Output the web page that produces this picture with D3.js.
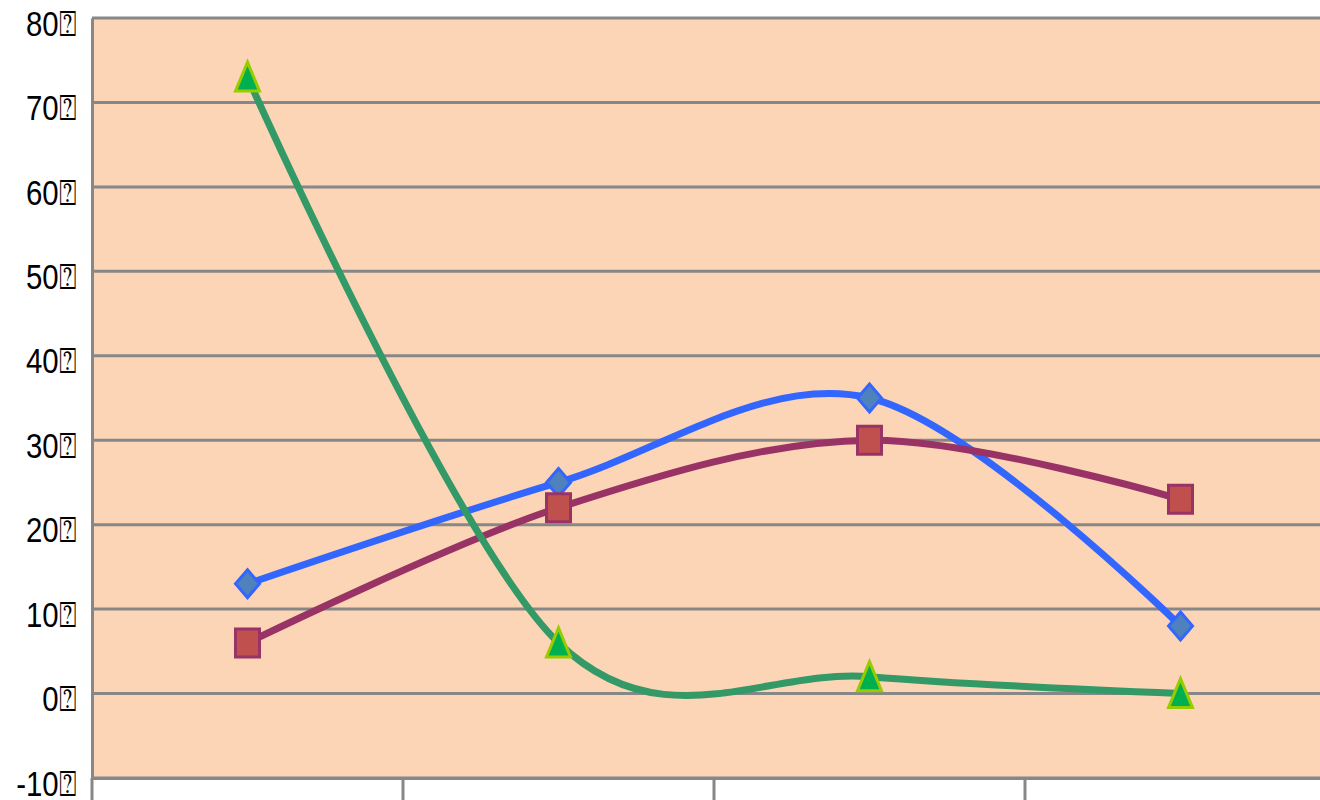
<!DOCTYPE html>
<html>
<head>
<meta charset="utf-8">
<script src="https://cdn.jsdelivr.net/npm/d3@7"></script>
<style>
  html, body { margin: 0; padding: 0; background: #ffffff; }
  svg { display: block; }
</style>
</head>
<body>
<svg id="chart" width="1320" height="800"></svg>
<script>
// Chart data
const categories = ["A", "B", "C", "D"];
const seriesBlue = [13, 25, 35, 8];
const seriesRed = [6, 22, 30, 23];
const seriesGreen = [73, 6, 2, 0];
const yTicks = [-10, 0, 10, 20, 30, 40, 50, 60, 70, 80];
const tickSuffix = "\u2370";

const svg = d3.select("#chart");
const plot = { left: 92, top: 18, right: 1336, bottom: 778 };

const x = d3.scaleBand()
  .domain(categories)
  .range([plot.left, plot.right])
  .paddingInner(0).paddingOuter(0);

const y = d3.scaleLinear()
  .domain([-10, 80])
  .range([plot.bottom, plot.top]);

// plot area background
svg.append("rect")
  .attr("x", plot.left).attr("y", plot.top)
  .attr("width", plot.right - plot.left).attr("height", plot.bottom - plot.top)
  .attr("fill", "#fbd5b5");

// horizontal gridlines
svg.append("g")
  .selectAll("line")
  .data(yTicks)
  .join("line")
  .attr("x1", plot.left).attr("x2", plot.right)
  .attr("y1", d => y(d)).attr("y2", d => y(d))
  .attr("stroke", "#878787")
  .attr("stroke-width", 3);

// y axis with narrow labels
const yAxis = d3.axisLeft(y)
  .tickValues(yTicks)
  .tickSize(0)
  .tickPadding(0)
  .tickFormat(d => d + tickSuffix);

const gy = svg.append("g")
  .attr("transform", `translate(${plot.left},0)`)
  .call(yAxis);
gy.select(".domain").attr("stroke", "#878787").attr("stroke-width", 3);
gy.selectAll("text")
  .attr("x", 0)
  .attr("dy", "0.32em")
  .attr("transform", "translate(-16,6) scale(0.84,1)")
  .attr("fill", "#000")
  .style("font-family", "'Liberation Sans', 'DejaVu Sans', sans-serif")
  .style("font-size", "35px");

// x axis: tick marks at category boundaries, no labels
const xAxis = d3.axisBottom(x).tickSize(0).tickFormat("");
const gx = svg.append("g")
  .attr("transform", `translate(0,${plot.bottom})`)
  .call(xAxis);
gx.select(".domain").attr("stroke", "#878787").attr("stroke-width", 3);
gx.selectAll(".tick").remove();
gx.selectAll("line.boundary")
  .data(categories)
  .join("line")
  .attr("class", "boundary")
  .attr("x1", d => x(d)).attr("x2", d => x(d))
  .attr("y1", 0).attr("y2", 24)
  .attr("stroke", "#878787")
  .attr("stroke-width", 3);

const cx = d => x(d) + x.bandwidth() / 2;

const line = d3.line()
  .x(d => cx(d.cat))
  .y(d => y(d.v))
  .curve(d3.curveCardinal.tension(0));

const series = [
  { values: seriesBlue, stroke: "#3366ff", shape: "diamond", fill: "#4f81bd", edge: "#3366ff" },
  { values: seriesRed, stroke: "#993366", shape: "square", fill: "#c0504d", edge: "#993366" },
  { values: seriesGreen, stroke: "#339966", shape: "triangle", fill: "#00b050", edge: "#99cc00" }
];

function markerPath(shape) {
  if (shape === "diamond") return "M0,-14 L12,0 L0,14 L-12,0 Z";
  if (shape === "square") return "M-12,-14 L12,-14 L12,14 L-12,14 Z";
  return "M0,-15 L12,14 L-12,14 Z";
}

series.forEach(s => {
  const pts = s.values.map((v, i) => ({ cat: categories[i], v }));
  svg.append("path")
    .datum(pts)
    .attr("d", line)
    .attr("fill", "none")
    .attr("stroke", s.stroke)
    .attr("stroke-width", 7)
    .attr("stroke-linecap", "round");
  svg.append("g")
    .selectAll("path")
    .data(pts)
    .join("path")
    .attr("transform", d => `translate(${cx(d.cat)},${y(d.v)})`)
    .attr("d", markerPath(s.shape))
    .attr("fill", s.fill)
    .attr("stroke", s.edge)
    .attr("stroke-width", 3)
    .attr("stroke-linejoin", "miter");
});
</script>
</body>
</html>
